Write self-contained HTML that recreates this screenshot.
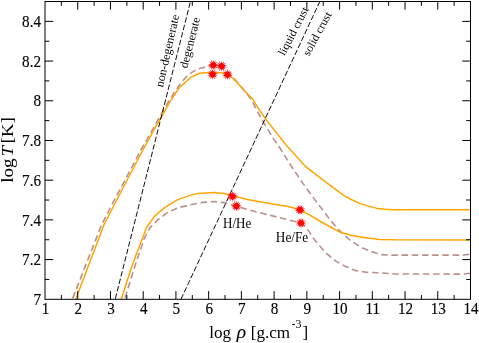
<!DOCTYPE html>
<html><head><meta charset="utf-8"><title>chart</title><style>html,body{margin:0;padding:0;background:#fff;overflow:hidden}svg{display:block;will-change:transform}.t{font-family:"Liberation Serif",serif}</style></head><body>
<svg width="479" height="343" viewBox="0 0 479 343">
<rect width="479" height="343" fill="#fff"/>
<clipPath id="c"><rect x="45.0" y="1.5" width="425.5" height="297.8"/></clipPath>
<g clip-path="url(#c)" fill="none">
<polyline points="72.3,299.3 101.3,225.5 109.2,210.0 125.1,180.0 135.7,160.0 140.9,150.0 152.4,130.0 157.6,120.5 170.0,99.0 178.2,86.7 187.3,75.5 196.5,69.4 208.8,65.9 212.9,65.2 221.2,66.3 227.5,74.3 233.0,77.5 244.3,90.4 251.4,99.6 256.5,109.8 262.7,121.0 268.8,131.2 273.9,139.4 278.2,145.3 290.4,164.7 302.7,183.1 313.9,198.4 320.6,207.2 330.8,220.8 340.5,231.6 350.7,240.7 362.0,247.8 371.4,251.6 381.0,254.6 391.2,255.1 462.0,255.1 470.5,254.2" stroke="#bc8f8f" stroke-width="1.6" stroke-dasharray="6.5 3.693" stroke-dashoffset="-1"/>
<polyline points="124.8,299.0 133.7,270.0 138.6,255.0 140.5,250.0 144.0,239.0 150.1,227.6 158.0,219.7 167.6,212.4 179.0,207.5 190.0,204.9 202.7,202.4 214.9,201.5 224.1,202.6 236.4,206.2 251.3,210.6 267.7,214.7 284.0,218.8 300.8,222.9 306.2,227.3 314.3,239.4 324.5,251.6 333.7,259.8 344.9,266.3 355.1,270.4 365.3,272.1 380.0,272.9 395.0,274.0 462.0,274.1 470.5,273.3" stroke="#bc8f8f" stroke-width="1.6" stroke-dasharray="6.5 3.701" stroke-dashoffset="-1"/>
<polyline points="75.7,299.3 104.1,224.5 111.6,210.0 127.1,180.0 137.7,160.0 142.9,150.0 150.2,136.9 153.8,130.0 161.6,116.5 170.4,101.1 179.0,88.0 190.4,77.6 199.6,73.3 211.8,72.3 227.1,73.3 235.3,80.6 243.5,89.8 252.4,98.8 260.6,111.8 265.7,119.0 274.0,129.6 286.3,145.3 296.5,156.5 305.7,166.7 319.0,176.9 331.2,186.1 343.5,195.3 351.2,199.5 360.6,203.9 376.9,208.4 391.2,209.8 470.5,209.8" stroke="#ffa500" stroke-width="1.5" stroke-linejoin="round"/>
<polyline points="121.3,299.0 130.6,270.0 136.0,255.0 138.0,250.0 146.5,227.8 154.6,216.1 165.0,207.4 176.4,200.4 180.0,198.9 188.7,195.9 197.5,193.4 214.1,192.4 223.7,193.6 232.2,195.6 247.2,199.4 261.5,202.0 275.8,204.5 288.1,206.5 300.2,209.8 310.4,215.4 320.6,221.5 330.4,227.0 341.0,232.6 351.2,235.2 361.0,236.9 370.0,238.3 379.5,239.4 395.3,239.8 470.5,239.9" stroke="#ffa500" stroke-width="1.5" stroke-linejoin="round"/>
<polyline points="115.3,298.9 190.4,1.7" stroke="#000" stroke-width="0.95" stroke-dasharray="5.5 2.2"/>
<polyline points="181.0,299.2 319.8,1.6" stroke="#000" stroke-width="0.95" stroke-dasharray="5.5 2.2"/>
</g>
<polygon points="213.3,59.6 213.9,62.5 215.7,60.1 215.0,63.0 217.6,61.7 215.7,63.9 218.7,63.9 216.0,65.1 218.7,66.3 215.7,66.3 217.6,68.5 215.0,67.2 215.7,70.1 213.9,67.7 213.3,70.6 212.7,67.7 210.9,70.1 211.6,67.2 209.0,68.5 210.9,66.3 207.9,66.3 210.6,65.1 207.9,63.9 210.9,63.9 209.0,61.7 211.6,63.0 210.9,60.1 212.7,62.5" fill="#ff0000"/>
<polygon points="221.6,60.7 222.2,63.6 224.0,61.2 223.3,64.1 225.9,62.8 224.0,65.0 227.0,65.0 224.3,66.2 227.0,67.4 224.0,67.4 225.9,69.6 223.3,68.3 224.0,71.2 222.2,68.8 221.6,71.7 221.0,68.8 219.2,71.2 219.9,68.3 217.3,69.6 219.2,67.4 216.2,67.4 218.9,66.2 216.2,65.0 219.2,65.0 217.3,62.8 219.9,64.1 219.2,61.2 221.0,63.6" fill="#ff0000"/>
<polygon points="212.6,68.8 213.2,71.7 215.0,69.3 214.3,72.2 216.9,70.9 215.0,73.1 218.0,73.1 215.3,74.3 218.0,75.5 215.0,75.5 216.9,77.7 214.3,76.4 215.0,79.3 213.2,76.9 212.6,79.8 212.0,76.9 210.2,79.3 210.9,76.4 208.3,77.7 210.2,75.5 207.2,75.5 209.9,74.3 207.2,73.1 210.2,73.1 208.3,70.9 210.9,72.2 210.2,69.3 212.0,71.7" fill="#ff0000"/>
<polygon points="227.5,69.2 228.1,72.1 229.9,69.7 229.2,72.6 231.8,71.3 229.9,73.5 232.9,73.5 230.2,74.7 232.9,75.9 229.9,75.9 231.8,78.1 229.2,76.8 229.9,79.7 228.1,77.3 227.5,80.2 226.9,77.3 225.1,79.7 225.8,76.8 223.2,78.1 225.1,75.9 222.1,75.9 224.8,74.7 222.1,73.5 225.1,73.5 223.2,71.3 225.8,72.6 225.1,69.7 226.9,72.1" fill="#ff0000"/>
<polygon points="232.4,190.8 233.0,193.7 234.8,191.3 234.1,194.2 236.7,192.9 234.8,195.1 237.8,195.1 235.1,196.3 237.8,197.5 234.8,197.5 236.7,199.7 234.1,198.4 234.8,201.3 233.0,198.9 232.4,201.8 231.8,198.9 230.0,201.3 230.7,198.4 228.1,199.7 230.0,197.5 227.0,197.5 229.7,196.3 227.0,195.1 230.0,195.1 228.1,192.9 230.7,194.2 230.0,191.3 231.8,193.7" fill="#ff0000"/>
<polygon points="236.4,200.6 237.0,203.5 238.8,201.1 238.1,204.0 240.7,202.7 238.8,204.9 241.8,204.9 239.1,206.1 241.8,207.3 238.8,207.3 240.7,209.5 238.1,208.2 238.8,211.1 237.0,208.7 236.4,211.6 235.8,208.7 234.0,211.1 234.7,208.2 232.1,209.5 234.0,207.3 231.0,207.3 233.7,206.1 231.0,204.9 234.0,204.9 232.1,202.7 234.7,204.0 234.0,201.1 235.8,203.5" fill="#ff0000"/>
<polygon points="300.0,204.3 300.6,207.2 302.4,204.8 301.7,207.7 304.3,206.4 302.4,208.6 305.4,208.6 302.7,209.8 305.4,211.0 302.4,211.0 304.3,213.2 301.7,211.9 302.4,214.8 300.6,212.4 300.0,215.3 299.4,212.4 297.6,214.8 298.3,211.9 295.7,213.2 297.6,211.0 294.6,211.0 297.3,209.8 294.6,208.6 297.6,208.6 295.7,206.4 298.3,207.7 297.6,204.8 299.4,207.2" fill="#ff0000"/>
<polygon points="301.0,217.5 301.6,220.4 303.4,218.0 302.7,220.9 305.3,219.6 303.4,221.8 306.4,221.8 303.7,223.0 306.4,224.2 303.4,224.2 305.3,226.4 302.7,225.1 303.4,228.0 301.6,225.6 301.0,228.5 300.4,225.6 298.6,228.0 299.3,225.1 296.7,226.4 298.6,224.2 295.6,224.2 298.3,223.0 295.6,221.8 298.6,221.8 296.7,219.6 299.3,220.9 298.6,218.0 300.4,220.4" fill="#ff0000"/>
<g stroke="#000" stroke-width="1" fill="none">
<rect x="45.0" y="1.5" width="425.5" height="297.8"/>
<path d="M61.37 299.30V295.00M61.37 1.50V5.80M77.73 299.30V291.10M77.73 1.50V9.70M94.10 299.30V295.00M94.10 1.50V5.80M110.46 299.30V291.10M110.46 1.50V9.70M126.83 299.30V295.00M126.83 1.50V5.80M143.19 299.30V291.10M143.19 1.50V9.70M159.56 299.30V295.00M159.56 1.50V5.80M175.92 299.30V291.10M175.92 1.50V9.70M192.29 299.30V295.00M192.29 1.50V5.80M208.65 299.30V291.10M208.65 1.50V9.70M225.02 299.30V295.00M225.02 1.50V5.80M241.38 299.30V291.10M241.38 1.50V9.70M257.75 299.30V295.00M257.75 1.50V5.80M274.12 299.30V291.10M274.12 1.50V9.70M290.48 299.30V295.00M290.48 1.50V5.80M306.85 299.30V291.10M306.85 1.50V9.70M323.21 299.30V295.00M323.21 1.50V5.80M339.58 299.30V291.10M339.58 1.50V9.70M355.94 299.30V295.00M355.94 1.50V5.80M372.31 299.30V291.10M372.31 1.50V9.70M388.67 299.30V295.00M388.67 1.50V5.80M405.04 299.30V291.10M405.04 1.50V9.70M421.40 299.30V295.00M421.40 1.50V5.80M437.77 299.30V291.10M437.77 1.50V9.70M454.13 299.30V295.00M454.13 1.50V5.80M45.00 279.45H49.30M470.50 279.45H466.20M45.00 259.59H53.20M470.50 259.59H462.30M45.00 239.74H49.30M470.50 239.74H466.20M45.00 219.89H53.20M470.50 219.89H462.30M45.00 200.03H49.30M470.50 200.03H466.20M45.00 180.18H53.20M470.50 180.18H462.30M45.00 160.33H49.30M470.50 160.33H466.20M45.00 140.47H53.20M470.50 140.47H462.30M45.00 120.62H49.30M470.50 120.62H466.20M45.00 100.77H53.20M470.50 100.77H462.30M45.00 80.91H49.30M470.50 80.91H466.20M45.00 61.06H53.20M470.50 61.06H462.30M45.00 41.21H49.30M470.50 41.21H466.20M45.00 21.35H53.20M470.50 21.35H462.30"/>
</g>
<g class="t" fill="#000">
<g font-size="17.3px" text-anchor="middle" stroke="#000" stroke-width="0.15">
<text transform="translate(45.5,314.4) scale(0.875,1)">1</text>
<text transform="translate(78.2,314.4) scale(0.875,1)">2</text>
<text transform="translate(111.0,314.4) scale(0.875,1)">3</text>
<text transform="translate(143.7,314.4) scale(0.875,1)">4</text>
<text transform="translate(176.4,314.4) scale(0.875,1)">5</text>
<text transform="translate(209.2,314.4) scale(0.875,1)">6</text>
<text transform="translate(241.9,314.4) scale(0.875,1)">7</text>
<text transform="translate(274.6,314.4) scale(0.875,1)">8</text>
<text transform="translate(307.3,314.4) scale(0.875,1)">9</text>
<text transform="translate(340.1,314.4) scale(0.875,1)">10</text>
<text transform="translate(372.8,314.4) scale(0.875,1)">11</text>
<text transform="translate(405.5,314.4) scale(0.875,1)">12</text>
<text transform="translate(438.3,314.4) scale(0.875,1)">13</text>
<text transform="translate(471.0,314.4) scale(0.875,1)">14</text>
</g>
<g font-size="17.3px" text-anchor="end" stroke="#000" stroke-width="0.15">
<text transform="translate(41,304.9) scale(0.875,1)">7</text>
<text transform="translate(41,265.2) scale(0.875,1)">7.2</text>
<text transform="translate(41,225.5) scale(0.875,1)">7.4</text>
<text transform="translate(41,185.8) scale(0.875,1)">7.6</text>
<text transform="translate(41,146.1) scale(0.875,1)">7.8</text>
<text transform="translate(41,106.4) scale(0.875,1)">8</text>
<text transform="translate(41,66.7) scale(0.875,1)">8.2</text>
<text transform="translate(41,27.0) scale(0.875,1)">8.4</text>
</g>
<g font-size="17.1px">
<text x="209.2" y="337.6">log</text>
<text x="236.7" y="337.6" font-size="19.5px" font-style="italic" stroke="#000" stroke-width="0.12">ρ</text>
<text x="250.7" y="337.6">[g.cm</text>
<text x="291.4" y="328.2" font-size="12px">-3</text>
<text x="302.6" y="337.6">]</text>
</g>
<text transform="translate(13.4,182.7) scale(0.89,1) rotate(-90)" font-size="19.0px">log</text>
<text transform="translate(13.4,156.6) scale(0.89,1) rotate(-90)" font-size="19.0px" font-style="italic">T</text>
<text transform="translate(13.4,143.5) scale(0.89,1) rotate(-90)" font-size="19.0px">[K]</text>
<text transform="translate(223.0,227.6) scale(0.95,1)" font-size="13.7px">H/He</text>
<text transform="translate(275.8,242.3) scale(0.97,1)" font-size="13.7px">He/Fe</text>
<text transform="translate(162.9,87.7) rotate(-77.2)" font-size="12px">non-degenerate</text>
<text transform="translate(187.3,68.7) rotate(-75.7)" font-size="12px">degenerate</text>
<text transform="translate(284.5,56.3) rotate(-62.5)" font-size="11.7px">liquid crust</text>
<text transform="translate(309,56.8) rotate(-61.5)" font-size="11.7px">solid crust</text>
</g>
</svg>
</body></html>
